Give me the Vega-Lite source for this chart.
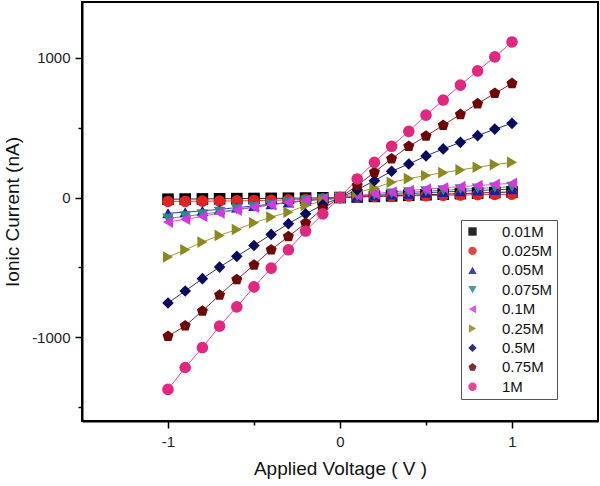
{
  "$schema": "https://vega.github.io/schema/vega-lite/v6.json",
  "width": 516,
  "height": 419,
  "autosize": {"type": "none"},
  "padding": {"left": 82, "top": 2, "right": 2, "bottom": 65},
  "config": {
    "view": {"stroke": "#000", "strokeWidth": 2},
    "font": "Liberation Sans",
    "axis": {"grid": false, "domainColor": "#000", "domainWidth": 2, "tickColor": "#000", "tickWidth": 1.5, "labelColor": "#222", "titleColor": "#111", "labelFont": "Liberation Sans", "titleFont": "Liberation Sans", "labelFontSize": 15, "titleFontSize": 19, "titleFontWeight": "normal"}
  },
  "data": {"values": [
    {"c":"0.01M","v":-1,"i":-12},{"c":"0.01M","v":-0.9,"i":-11},{"c":"0.01M","v":-0.8,"i":-10},{"c":"0.01M","v":-0.7,"i":-9},{"c":"0.01M","v":-0.6,"i":-8},{"c":"0.01M","v":-0.5,"i":-7},{"c":"0.01M","v":-0.4,"i":-6},{"c":"0.01M","v":-0.3,"i":-5},{"c":"0.01M","v":-0.2,"i":-4},{"c":"0.01M","v":-0.1,"i":-2},{"c":"0.01M","v":0,"i":0},{"c":"0.01M","v":0.1,"i":4},{"c":"0.01M","v":0.2,"i":8},{"c":"0.01M","v":0.3,"i":12},{"c":"0.01M","v":0.4,"i":16},{"c":"0.01M","v":0.5,"i":20},{"c":"0.01M","v":0.6,"i":24},{"c":"0.01M","v":0.7,"i":28},{"c":"0.01M","v":0.8,"i":32},{"c":"0.01M","v":0.9,"i":36},{"c":"0.01M","v":1,"i":40},
    {"c":"0.025M","v":-1,"i":-28},{"c":"0.025M","v":-0.9,"i":-27},{"c":"0.025M","v":-0.8,"i":-26},{"c":"0.025M","v":-0.7,"i":-25},{"c":"0.025M","v":-0.6,"i":-24},{"c":"0.025M","v":-0.5,"i":-22},{"c":"0.025M","v":-0.4,"i":-20},{"c":"0.025M","v":-0.3,"i":-17},{"c":"0.025M","v":-0.2,"i":-14},{"c":"0.025M","v":-0.1,"i":-9},{"c":"0.025M","v":0,"i":0},{"c":"0.025M","v":0.1,"i":5},{"c":"0.025M","v":0.2,"i":8},{"c":"0.025M","v":0.3,"i":10},{"c":"0.025M","v":0.4,"i":12},{"c":"0.025M","v":0.5,"i":14},{"c":"0.025M","v":0.6,"i":16},{"c":"0.025M","v":0.7,"i":18},{"c":"0.025M","v":0.8,"i":20},{"c":"0.025M","v":0.9,"i":22},{"c":"0.025M","v":1,"i":24},
    {"c":"0.05M","v":-1,"i":-112},{"c":"0.05M","v":-0.9,"i":-105},{"c":"0.05M","v":-0.8,"i":-95},{"c":"0.05M","v":-0.7,"i":-85},{"c":"0.05M","v":-0.6,"i":-72},{"c":"0.05M","v":-0.5,"i":-60},{"c":"0.05M","v":-0.4,"i":-48},{"c":"0.05M","v":-0.3,"i":-36},{"c":"0.05M","v":-0.2,"i":-24},{"c":"0.05M","v":-0.1,"i":-12},{"c":"0.05M","v":0,"i":0},{"c":"0.05M","v":0.1,"i":8},{"c":"0.05M","v":0.2,"i":15},{"c":"0.05M","v":0.3,"i":22},{"c":"0.05M","v":0.4,"i":28},{"c":"0.05M","v":0.5,"i":34},{"c":"0.05M","v":0.6,"i":40},{"c":"0.05M","v":0.7,"i":45},{"c":"0.05M","v":0.8,"i":50},{"c":"0.05M","v":0.9,"i":55},{"c":"0.05M","v":1,"i":60},
    {"c":"0.075M","v":-1,"i":-150},{"c":"0.075M","v":-0.9,"i":-135},{"c":"0.075M","v":-0.8,"i":-120},{"c":"0.075M","v":-0.7,"i":-102},{"c":"0.075M","v":-0.6,"i":-85},{"c":"0.075M","v":-0.5,"i":-68},{"c":"0.075M","v":-0.4,"i":-52},{"c":"0.075M","v":-0.3,"i":-36},{"c":"0.075M","v":-0.2,"i":-22},{"c":"0.075M","v":-0.1,"i":-10},{"c":"0.075M","v":0,"i":0},{"c":"0.075M","v":0.1,"i":10},{"c":"0.075M","v":0.2,"i":20},{"c":"0.075M","v":0.3,"i":29},{"c":"0.075M","v":0.4,"i":37},{"c":"0.075M","v":0.5,"i":45},{"c":"0.075M","v":0.6,"i":52},{"c":"0.075M","v":0.7,"i":59},{"c":"0.075M","v":0.8,"i":65},{"c":"0.075M","v":0.9,"i":71},{"c":"0.075M","v":1,"i":77},
    {"c":"0.1M","v":-1,"i":-176},{"c":"0.1M","v":-0.9,"i":-155},{"c":"0.1M","v":-0.8,"i":-136},{"c":"0.1M","v":-0.7,"i":-110},{"c":"0.1M","v":-0.6,"i":-90},{"c":"0.1M","v":-0.5,"i":-70},{"c":"0.1M","v":-0.4,"i":-52},{"c":"0.1M","v":-0.3,"i":-35},{"c":"0.1M","v":-0.2,"i":-18},{"c":"0.1M","v":-0.1,"i":-7},{"c":"0.1M","v":0,"i":0},{"c":"0.1M","v":0.1,"i":15},{"c":"0.1M","v":0.2,"i":28},{"c":"0.1M","v":0.3,"i":40},{"c":"0.1M","v":0.4,"i":50},{"c":"0.1M","v":0.5,"i":60},{"c":"0.1M","v":0.6,"i":70},{"c":"0.1M","v":0.7,"i":78},{"c":"0.1M","v":0.8,"i":86},{"c":"0.1M","v":0.9,"i":94},{"c":"0.1M","v":1,"i":102},
    {"c":"0.25M","v":-1,"i":-426},{"c":"0.25M","v":-0.9,"i":-374},{"c":"0.25M","v":-0.8,"i":-319},{"c":"0.25M","v":-0.7,"i":-271},{"c":"0.25M","v":-0.6,"i":-229},{"c":"0.25M","v":-0.5,"i":-181},{"c":"0.25M","v":-0.4,"i":-140},{"c":"0.25M","v":-0.3,"i":-105},{"c":"0.25M","v":-0.2,"i":-57},{"c":"0.25M","v":-0.1,"i":-25},{"c":"0.25M","v":0,"i":0},{"c":"0.25M","v":0.1,"i":35},{"c":"0.25M","v":0.2,"i":69},{"c":"0.25M","v":0.3,"i":109},{"c":"0.25M","v":0.4,"i":135},{"c":"0.25M","v":0.5,"i":158},{"c":"0.25M","v":0.6,"i":178},{"c":"0.25M","v":0.7,"i":198},{"c":"0.25M","v":0.8,"i":217},{"c":"0.25M","v":0.9,"i":236},{"c":"0.25M","v":1,"i":252},
    {"c":"0.5M","v":-1,"i":-755},{"c":"0.5M","v":-0.9,"i":-669},{"c":"0.5M","v":-0.8,"i":-581},{"c":"0.5M","v":-0.7,"i":-498},{"c":"0.5M","v":-0.6,"i":-421},{"c":"0.5M","v":-0.5,"i":-343},{"c":"0.5M","v":-0.4,"i":-264},{"c":"0.5M","v":-0.3,"i":-188},{"c":"0.5M","v":-0.2,"i":-117},{"c":"0.5M","v":-0.1,"i":-52},{"c":"0.5M","v":0,"i":0},{"c":"0.5M","v":0.1,"i":55},{"c":"0.5M","v":0.2,"i":121},{"c":"0.5M","v":0.3,"i":188},{"c":"0.5M","v":0.4,"i":240},{"c":"0.5M","v":0.5,"i":298},{"c":"0.5M","v":0.6,"i":348},{"c":"0.5M","v":0.7,"i":395},{"c":"0.5M","v":0.8,"i":443},{"c":"0.5M","v":0.9,"i":490},{"c":"0.5M","v":1,"i":531},
    {"c":"0.75M","v":-1,"i":-993},{"c":"0.75M","v":-0.9,"i":-919},{"c":"0.75M","v":-0.8,"i":-812},{"c":"0.75M","v":-0.7,"i":-698},{"c":"0.75M","v":-0.6,"i":-588},{"c":"0.75M","v":-0.5,"i":-483},{"c":"0.75M","v":-0.4,"i":-374},{"c":"0.75M","v":-0.3,"i":-279},{"c":"0.75M","v":-0.2,"i":-183},{"c":"0.75M","v":-0.1,"i":-81},{"c":"0.75M","v":0,"i":0},{"c":"0.75M","v":0.1,"i":85},{"c":"0.75M","v":0.2,"i":181},{"c":"0.75M","v":0.3,"i":278},{"c":"0.75M","v":0.4,"i":366},{"c":"0.75M","v":0.5,"i":440},{"c":"0.75M","v":0.6,"i":518},{"c":"0.75M","v":0.7,"i":595},{"c":"0.75M","v":0.8,"i":672},{"c":"0.75M","v":0.9,"i":746},{"c":"0.75M","v":1,"i":817},
    {"c":"1M","v":-1,"i":-1374},{"c":"1M","v":-0.9,"i":-1217},{"c":"1M","v":-0.8,"i":-1074},{"c":"1M","v":-0.7,"i":-921},{"c":"1M","v":-0.6,"i":-783},{"c":"1M","v":-0.5,"i":-640},{"c":"1M","v":-0.4,"i":-505},{"c":"1M","v":-0.3,"i":-374},{"c":"1M","v":-0.2,"i":-240},{"c":"1M","v":-0.1,"i":-117},{"c":"1M","v":0,"i":0},{"c":"1M","v":0.1,"i":133},{"c":"1M","v":0.2,"i":252},{"c":"1M","v":0.3,"i":367},{"c":"1M","v":0.4,"i":474},{"c":"1M","v":0.5,"i":590},{"c":"1M","v":0.6,"i":698},{"c":"1M","v":0.7,"i":805},{"c":"1M","v":0.8,"i":907},{"c":"1M","v":0.9,"i":1007},{"c":"1M","v":1,"i":1114}
  ]},
  "encoding": {
    "x": {"field": "v", "type": "quantitative", "scale": {"domain": [-1.5, 1.5], "nice": false},
      "axis": {"title": "Applied Voltage ( V )", "values": [-1, -0.5, 0, 0.5, 1], "labelExpr": "datum.value % 1 === 0 ? '' + datum.value : ''", "tickSize": {"condition": {"test": "datum.value % 1 === 0", "value": 7}, "value": 4}, "labelPadding": 6, "titlePadding": 10}},
    "y": {"field": "i", "type": "quantitative", "scale": {"domain": [-1600, 1400], "nice": false, "zero": false},
      "axis": {"title": "Ionic Current (nA)", "values": [-1500, -1000, -500, 0, 500, 1000], "labelExpr": "datum.value % 1000 === 0 ? '' + datum.value : ''", "tickSize": {"condition": {"test": "datum.value % 1000 === 0", "value": 7}, "value": 4}, "labelPadding": 5, "titlePadding": 9}},
    "color": {"field": "c", "type": "nominal",
      "scale": {"domain": ["0.01M","0.025M","0.05M","0.075M","0.1M","0.25M","0.5M","0.75M","1M"],
        "range": ["#000000","#e02424","#1c1ca8","#2a8a8a","#d03ae0","#8a8a1e","#0a0a5e","#6e0808","#e0287f"]},
      "legend": {"title": null, "orient": "none", "legendX": 379, "legendY": 218, "strokeColor": "#555", "fillColor": "#fff", "padding": 4, "labelFontSize": 15, "labelColor": "#111", "labelFont": "Liberation Sans", "symbolSize": 70, "labelOffset": 22, "rowPadding": 3.4, "symbolStrokeWidth": 0}},
    "order": {"field": "v", "type": "quantitative"}
  },
  "layer": [
    {"mark": {"type": "line", "strokeWidth": 1, "opacity": 0.85}},
    {"mark": {"type": "point", "filled": true, "opacity": 1, "size": 135},
      "encoding": {
        "shape": {"field": "c", "type": "nominal",
          "scale": {"domain": ["0.01M","0.025M","0.05M","0.075M","0.1M","0.25M","0.5M","0.75M","1M"],
            "range": ["square","circle","triangle-up","triangle-down","triangle-left","triangle-right","diamond","M0,-1L0.951,-0.309L0.588,0.809L-0.588,0.809L-0.951,-0.309Z","circle"]},
          "legend": {"title": null, "orient": "none", "legendX": 379, "legendY": 218, "strokeColor": "#555", "fillColor": "#fff", "padding": 4, "labelFontSize": 15, "labelColor": "#111", "labelFont": "Liberation Sans", "symbolSize": 70, "labelOffset": 22, "rowPadding": 3.4, "symbolStrokeWidth": 0}}
      }}
  ]
}
